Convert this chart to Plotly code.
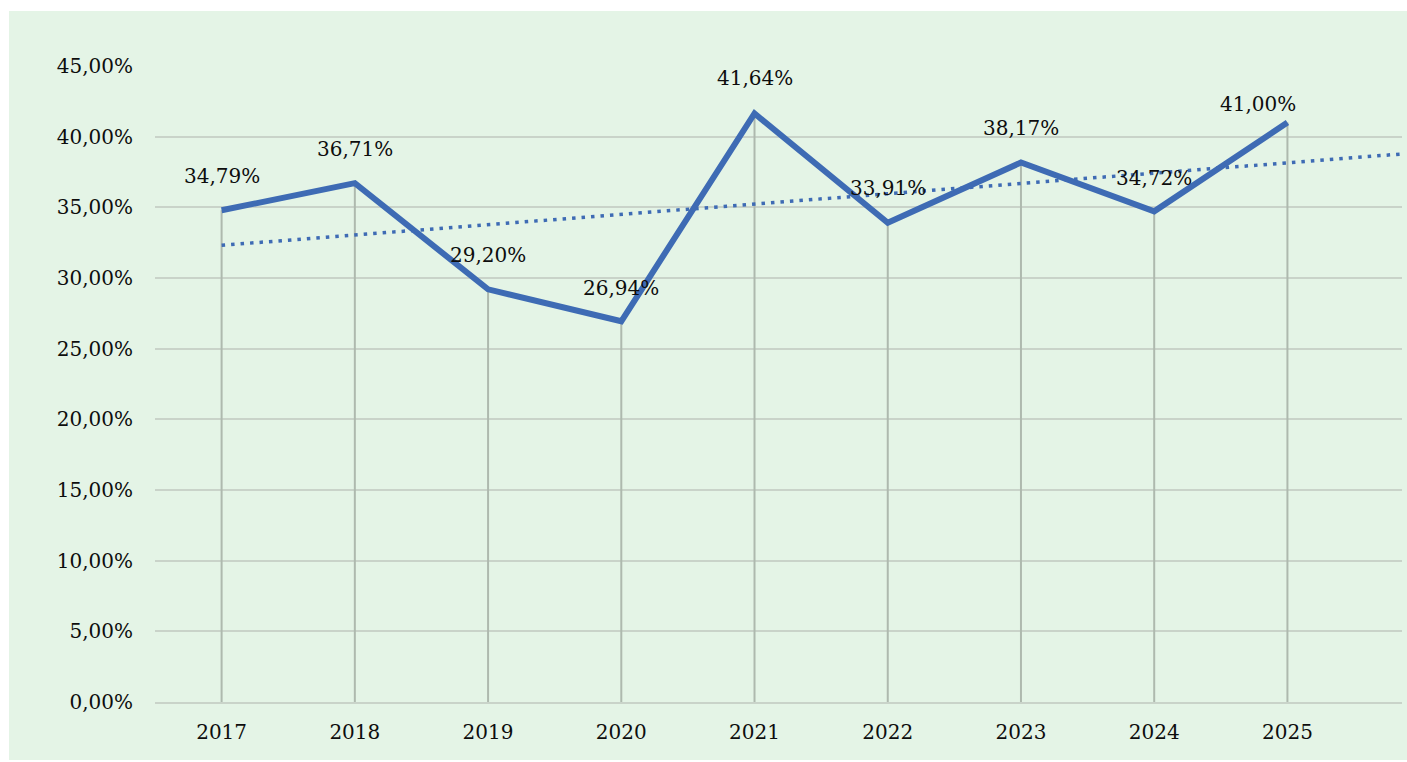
import numpy as np
import plotly.graph_objects as go

# Share per year (percent)
years = ["2017", "2018", "2019", "2020", "2021", "2022", "2023", "2024", "2025"]
values = [34.79, 36.71, 29.20, 26.94, 41.64, 33.91, 38.17, 34.72, 41.00]
y_ticks = [0, 5, 10, 15, 20, 25, 30, 35, 40, 45]

FONT = "DejaVu Serif"
BLUE = "#3E6BB4"
GRID = "#C9D3C9"
DROP = "#AEB9AE"
BG = "#E4F4E6"
TEXT = "#0d0d0d"

xs = list(range(len(years)))

def pct(v):
    return f"{v:.2f}".replace(".", ",") + "%"

# linear trend over the series, projected one period forward
slope, intercept = np.polyfit(xs, values, 1)
trend_x = [0, len(years)]
trend_y = [intercept + slope * t for t in trend_x]

# vertical drop lines from each point to the axis
drop_x, drop_y = [], []
for x, v in zip(xs, values):
    drop_x += [x, x, None]
    drop_y += [v, 0, None]

fig = go.Figure()
fig.add_trace(go.Scatter(x=drop_x, y=drop_y, mode="lines",
                         line=dict(color=DROP, width=2), hoverinfo="skip"))
fig.add_trace(go.Scatter(x=xs, y=values, mode="lines",
                         line=dict(color=BLUE, width=6)))
fig.add_trace(go.Scatter(x=trend_x, y=trend_y, mode="lines",
                         line=dict(color=BLUE, width=3.5, dash="3.5px,6px")))

# data labels
label_shift_y = [34, 34, 34, 33, 35, 35, 35, 33, 19]
label_shift_x = [0, 0, 0, 0, 0, 0, 0, 0, -29]
for x, v, dy, dx in zip(xs, values, label_shift_y, label_shift_x):
    fig.add_annotation(x=x, y=v, text=pct(v), showarrow=False,
                       yshift=dy, xshift=dx,
                       font=dict(family=FONT, size=20, color=TEXT))

# green chart area behind the plot
fig.add_shape(type="rect", xref="paper", yref="paper",
              x0=(9 - 155) / 1247, x1=(1407 - 155) / 1247,
              y0=(702 - 760) / 636, y1=(702 - 11) / 636,
              fillcolor=BG, line=dict(width=0), layer="below")

fig.update_layout(
    width=1407, height=762,
    margin=dict(l=155, r=5, t=66, b=60),
    paper_bgcolor="white",
    plot_bgcolor="rgba(0,0,0,0)",
    showlegend=False,
    font=dict(family=FONT, size=20, color=TEXT),
)
fig.update_xaxes(
    range=[-0.5, 8.86], tickvals=xs, ticktext=years,
    showgrid=False, zeroline=False,
    showline=True, linecolor=GRID, linewidth=2,
    ticks="", ticklabelstandoff=11,
    tickfont=dict(family=FONT, size=20, color=TEXT),
)
fig.update_yaxes(
    range=[0, 45], tickvals=y_ticks, ticktext=[pct(v) for v in y_ticks],
    showgrid=True, gridcolor=GRID, gridwidth=2, zeroline=False,
    showline=False, ticks="", ticklabelstandoff=21,
    tickfont=dict(family=FONT, size=20, color=TEXT),
)

fig.write_html("out.html")
